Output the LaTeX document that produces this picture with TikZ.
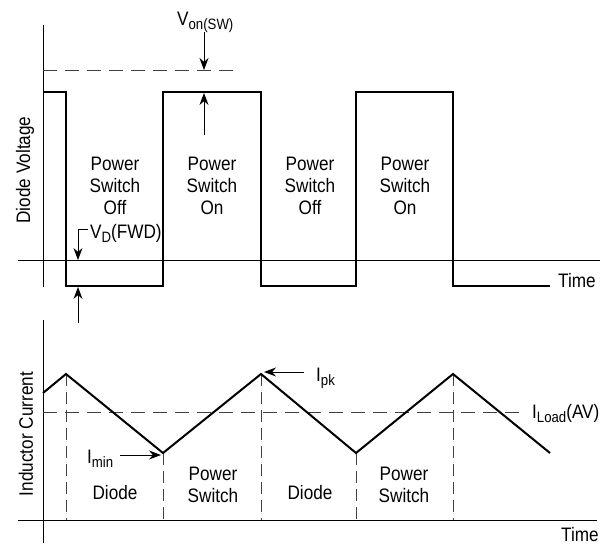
\documentclass[tikz,border=0pt]{standalone}
\usepackage{fontspec}
\setmainfont{Liberation Sans}[FakeStretch=0.88]
\usetikzlibrary{arrows.meta}
\newcommand\lowtxt[1]{\raisebox{-0.45ex}{\fontsize{15}{15}\selectfont #1}}
\begin{document}
\begin{tikzpicture}[x=1pt,y=-1pt,
  wave/.style={line width=2pt, line join=miter},
  axis/.style={line width=1pt},
  dsh/.style={line width=1pt, dash pattern=on 14pt off 8pt, draw=black!75},
  vdsh/.style={line width=1pt, dash pattern=on 12pt off 6pt, draw=black!75},
  arr/.style={line width=1pt, -{Stealth[length=12pt,width=9pt]}},
  lbl/.style={font=\fontsize{19.5}{22}\selectfont, inner sep=0pt, align=center},
  ]
\useasboundingbox (0,0) rectangle (611,544);
% ---------- top plot ----------
\draw[axis] (43,25) -- (43,287);
\draw[axis] (18,260) -- (600,260);
\draw[dsh] (43,70) -- (237,70);
\draw[wave] (43,92) -- (66,92) -- (66,286) -- (163,286) -- (163,92) -- (261,92) -- (261,286)
  -- (356,286) -- (356,92) -- (453,92) -- (453,286) -- (550,286);
\node[lbl] (off1) at (115,186) {Power\\Switch\\Off};
\node[lbl] (on1) at (212,186) {Power\\Switch\\On};
\node[lbl] (off2) at (310,186) {Power\\Switch\\Off};
\node[lbl] (on2) at (405,186) {Power\\Switch\\On};
\node[lbl, rotate=90] (dv) at (25,170) {Diode Voltage};
\node[lbl, anchor=base west] (time1) at (558,287) {Time};
\node[lbl, anchor=base west] (von) at (177,25) {V\lowtxt{on(SW)}};
\node[lbl, anchor=base west] (vd) at (90,238) {V\lowtxt{D}(FWD)};
\coordinate (vonA) at (204,32);
\coordinate (vonB) at (204,70);
\coordinate (vonC) at (204,135);
\coordinate (vonD) at (204,93);
\draw[arr] (vonA) -- (vonB);
\draw[arr] (vonC) -- (vonD);
\coordinate (vdA) at (88,229);
\coordinate (vdB) at (78,229);
\coordinate (vdC) at (78,260);
\coordinate (vdD) at (78,323);
\coordinate (vdE) at (78,287);
\draw[arr] (vdA) -- (vdB) -- (vdC);
\draw[arr] (vdD) -- (vdE);
% ---------- bottom plot ----------
\draw[axis] (43,320) -- (43,543);
\draw[axis] (18,520) -- (597,520);
\draw[dsh] (43,412) -- (520,412);
\foreach \xx/\yy in {66/374,163/453,261/374,356/453,453/374}
  \draw[vdsh] (\xx,\yy) -- (\xx,520);
\draw[wave] (43,393) -- (66,374) -- (163,453) -- (261,374) -- (356,453) -- (453,374) -- (550,453);
\node[lbl] (d1) at (115,493) {Diode};
\node[lbl] (ps1) at (213,485) {Power\\Switch};
\node[lbl] (d2) at (310,493) {Diode};
\node[lbl] (ps2) at (404,485) {Power\\Switch};
\node[lbl, rotate=90] (ic) at (26,434) {Inductor Current};
\node[lbl, anchor=base west] (time2) at (561,541) {Time};
\node[lbl, anchor=base west] (ipk) at (316,381) {I\lowtxt{pk}};
\node[lbl, anchor=base west] (imin) at (87,463) {I\lowtxt{min}};
\node[lbl, anchor=base west] (iload) at (532,418) {I\lowtxt{Load}(AV)};
\coordinate (pkA) at (304,372);
\coordinate (pkB) at (264,372);
\coordinate (mnA) at (120,455);
\coordinate (mnB) at (161,455);
\draw[arr] (pkA) -- (pkB);
\draw[arr] (mnA) -- (mnB);
\end{tikzpicture}
\end{document}
